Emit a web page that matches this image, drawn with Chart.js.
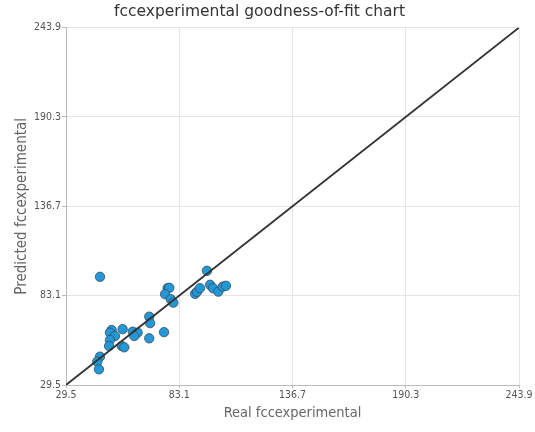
<!DOCTYPE html>
<html>
<head>
<meta charset="utf-8">
<script src="https://cdn.jsdelivr.net/npm/chart.js@4"></script>
<style>
  html, body { margin: 0; padding: 0; background: #fff; }
  #wrap { width: 535px; height: 432px; }
</style>
</head>
<body>
<div id="wrap"><canvas id="chart" width="535" height="432"></canvas></div>
<script>
// values
const realValues = [45.6, 77.6, 78.4, 76.4, 79.1, 80.3, 68.9, 69.3, 51.1, 56.3, 50.3, 52.7, 61.1, 63.4, 61.8, 75.9, 68.9,
  50.3, 49.9, 55.9, 57.1, 45.6, 44.3, 45.1, 96.2, 90.6, 91.5, 92.9, 97.7, 99.1, 101.6, 103.7, 105.2];
const predictedValues = [94.4, 87.6, 87.8, 84.0, 81.0, 78.9, 70.5, 66.6, 62.5, 63.0, 60.9, 58.9, 61.5, 60.9, 58.9, 61.2, 57.5,
  56.5, 52.9, 52.9, 52.1, 46.5, 43.5, 38.9, 98.0, 84.2, 85.4, 87.6, 89.6, 87.6, 85.5, 88.5, 89.0];
const tickValues = [29.5, 83.1, 136.7, 190.3, 243.9];
const tickLabels = ['29.5', '83.1', '136.7', '190.3', '243.9'];
const axisMin = 29.5;
const axisMax = 243.9;

const FONT = '"DejaVu Sans Condensed", "DejaVu Sans", sans-serif';
const TITLE_FONT = '"DejaVu Sans", sans-serif';

const points = realValues.map((x, i) => ({ x: x, y: predictedValues[i] }));
const fitLine = [{ x: axisMin, y: axisMin }, { x: axisMax, y: axisMax }];

function fixTicks(axis) {
  axis.ticks = tickValues.map(v => ({ value: v }));
}

new Chart(document.getElementById('chart'), {
  type: 'scatter',
  data: {
    datasets: [
      {
        label: 'fit',
        type: 'line',
        data: fitLine,
        borderColor: '#333333',
        borderWidth: 1.8,
        pointRadius: 0,
        order: 0
      },
      {
        label: 'fccexperimental',
        data: points,
        backgroundColor: '#2398d8',
        borderColor: '#3a4a55',
        borderWidth: 0.8,
        pointRadius: 4.7,
        order: 1
      }
    ]
  },
  options: {
    responsive: false,
    animation: false,
    layout: { padding: { left: 0, right: 16, top: 0, bottom: 0 } },
    plugins: {
      legend: { display: false },
      tooltip: { enabled: false },
      title: {
        display: true,
        text: 'fccexperimental goodness-of-fit chart',
        color: '#333',
        font: { family: TITLE_FONT, size: 15.5, weight: 'normal' },
        padding: { top: 3, bottom: 6 }
      }
    },
    scales: {
      x: {
        type: 'linear',
        min: axisMin,
        max: axisMax,
        afterBuildTicks: fixTicks,
        afterFit: a => { a.height = 47; },
        grid: { color: '#e4e4e4', tickLength: 3, tickColor: '#bbb' },
        border: { color: '#bbb' },
        ticks: {
          color: '#555',
          font: { family: FONT, size: 10.5 },
          padding: 1,
          maxRotation: 0,
          callback: (v, i) => tickLabels[i]
        },
        title: {
          display: true,
          text: 'Real fccexperimental',
          color: '#666',
          font: { family: FONT, size: 14.5 },
          padding: { top: 2, bottom: 10 }
        }
      },
      y: {
        type: 'linear',
        min: axisMin,
        max: axisMax,
        afterBuildTicks: fixTicks,
        afterFit: a => { a.width = 66; },
        grid: { color: '#e4e4e4', tickLength: 4, tickColor: '#bbb' },
        border: { color: '#bbb' },
        ticks: {
          color: '#555',
          font: { family: FONT, size: 10.5 },
          padding: 1,
          callback: (v, i) => tickLabels[i]
        },
        title: {
          display: true,
          text: 'Predicted fccexperimental',
          color: '#666',
          font: { family: FONT, size: 15 },
          padding: { top: 13, bottom: 0 }
        }
      }
    }
  }
});
</script>
</body>
</html>
